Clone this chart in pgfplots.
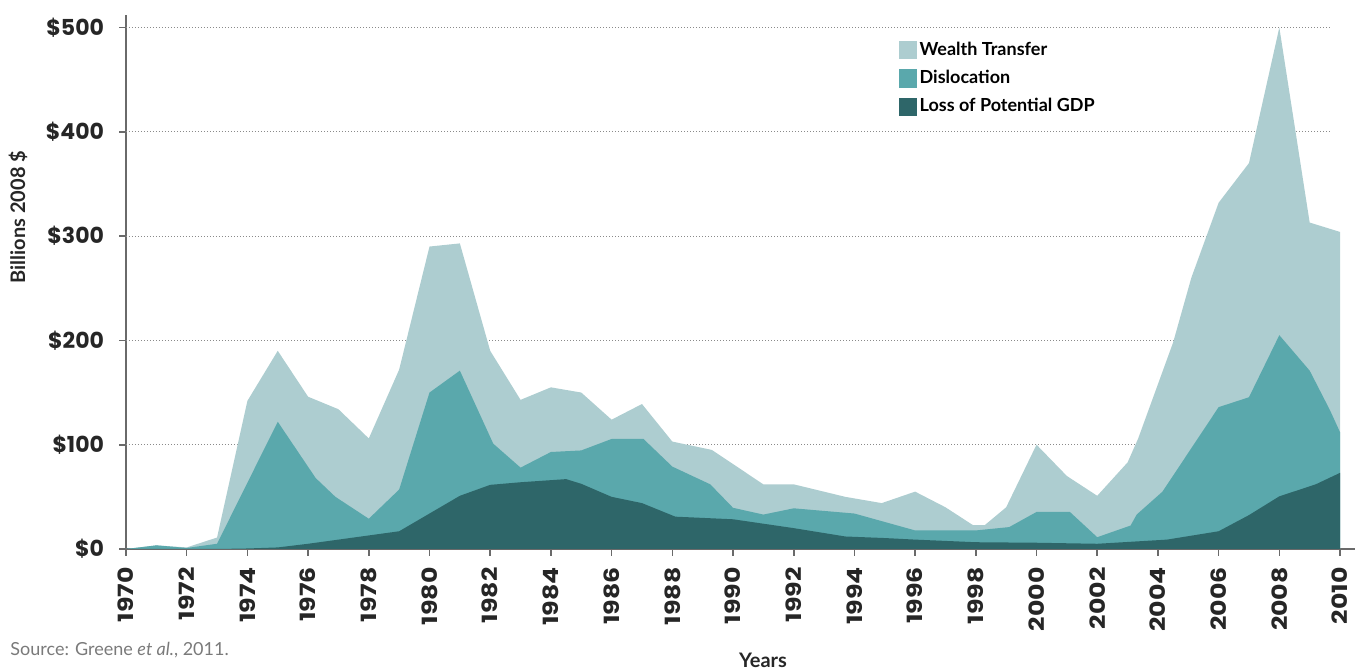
\documentclass[border=0pt]{standalone}
\usepackage{pgfplots}
\pgfplotsset{compat=1.18}
\usepackage{fontspec}
\setmainfont{Lato}
\newfontfamily\tickfont{Poppins}
\newfontfamily\xtickfont{Poppins}[FakeStretch=1.2]
\definecolor{wealthc}{HTML}{ADCDD0}
\definecolor{dislc}{HTML}{5AA8AC}
\definecolor{gdpc}{HTML}{2E6669}
\definecolor{axgray}{HTML}{6A6A6A}
\definecolor{gridgray}{HTML}{8A8A8A}
\definecolor{srcgray}{HTML}{7A7A7A}
\begin{document}
\begin{tikzpicture}
\useasboundingbox (-63pt,-60pt) rectangle (615pt,274.5pt);
\begin{axis}[
  at={(0,0)}, anchor=south west,
  scale only axis, width=614.6pt, height=267pt,
  xmin=1970, xmax=2010.5, ymin=0, ymax=512,
  axis x line=bottom, axis y line=left,
  axis line style={draw=axgray, line width=1.3pt, -},
  xtick={1970,1972,...,2010},
  xticklabels={1970,1972,1974,1976,1978,1980,1982,1984,1986,1988,1990,1992,1994,1996,1998,2000,2002,2004,2006,2008,2010},
  ytick={0,100,200,300,400,500},
  yticklabels={\$0,\$100,\$200,\$300,\$400,\$500},
  tick style={draw=axgray, line width=0.8pt},
  major tick length=3.5pt,
  tick align=outside,
  xticklabel style={rotate=90, anchor=east, font=\xtickfont\bfseries\fontsize{10.5}{12}\selectfont, text=black!85, inner sep=1pt, xshift=-4.5pt},
  yticklabel style={font=\tickfont\bfseries\fontsize{11}{12}\selectfont, text=black!85, xshift=-4pt},
  legend style={at={(axis cs:1995.45,489)}, anchor=north west, draw=none, fill=none,
    font=\bfseries\fontsize{9}{10}\selectfont, row sep=3.6pt, inner sep=0pt,
    nodes={inner sep=1.2pt}},
  legend cell align=left,
  legend image code/.code={\fill[#1] (0pt,-4.6pt) rectangle (9.2pt,4.6pt);},
  clip=false,
]
\foreach \yy in {100,200,300,400,500}{
  \edef\tmp{\noexpand\draw[gridgray, line width=0.5pt, densely dotted] (axis cs:1970,\yy) -- (axis cs:2009.7,\yy);}
  \tmp
}
\addplot[fill=wealthc, draw=none] coordinates {
(1970,0)(1971,3.5)(1972,1.5)(1973,11)(1974,142)(1975,190)(1976,146)(1977,134)(1978,106)(1979,172)(1980,290)(1981,293)(1982,190)(1983,143)(1984,155)(1985,150)(1986,124)(1987,139)(1988,103)(1989.3,95)(1991,62)(1992,62)(1993.7,50)(1994.9,44)(1996,55)(1997,40)(1997.9,23)(1998.3,23)(1999,40)(2000,100)(2001,70)(2002,51)(2003,83)(2003.35,106)(2004.5,198)(2005.1,260)(2006,332)(2007,370)(2008,500)(2009,313)(2010,304)
} \closedcycle;
\addlegendentry{Wealth Transfer}
\addplot[fill=dislc, draw=none] coordinates {
(1970,0)(1971,3.5)(1972,1)(1973,5)(1975,122)(1976.25,68)(1976.9,50)(1978,29)(1979,57)(1980,150)(1981,171)(1982.1,101)(1983,78)(1984,93)(1985,94.5)(1986,105.5)(1987.05,105.5)(1988,79)(1989.25,62)(1990,39.5)(1991,33)(1992,39)(1994,34)(1996,17.8)(1998,17.8)(1999.1,21)(2000,35.5)(2001.1,35.5)(2002,11.3)(2003.1,22.5)(2003.3,33)(2004.15,55)(2006,136)(2007,145.5)(2008,205)(2009,171)(2009.67,133)(2010,112)
} \closedcycle;
\addlegendentry{Dislocation}
\addplot[fill=gdpc, draw=none] coordinates {
(1970,0)(1973,0)(1974,0.5)(1975,1.5)(1976,5)(1977,9)(1978,13)(1979,17)(1980,34)(1981,51)(1982,61.5)(1983,64)(1984.5,67)(1985,62.5)(1986,50)(1987,44)(1988.1,31)(1990,28.5)(1992,20)(1993.7,12)(1995,10.5)(1996,9)(1998,6.5)(2000,6)(2002,5)(2004.3,9)(2006,17)(2007,32.5)(2008,50.5)(2009.2,62)(2010,73)
} \closedcycle;
\addlegendentry{Loss of Potential GDP}
\end{axis}
\node[rotate=90, font=\bfseries\fontsize{10}{11}\selectfont, text=black!85] at (-54pt,166pt) {Billions 2008 \$};
\node[font=\bfseries\fontsize{10}{12}\selectfont, text=black!85] at (318.5pt,-55.5pt) {Years};
\node[anchor=west, font=\fontsize{9}{11}\selectfont, text=srcgray, inner sep=0pt] at (-58pt,-50.5pt) {Source: Greene \textit{et al.}, 2011.};
\end{tikzpicture}
\end{document}
